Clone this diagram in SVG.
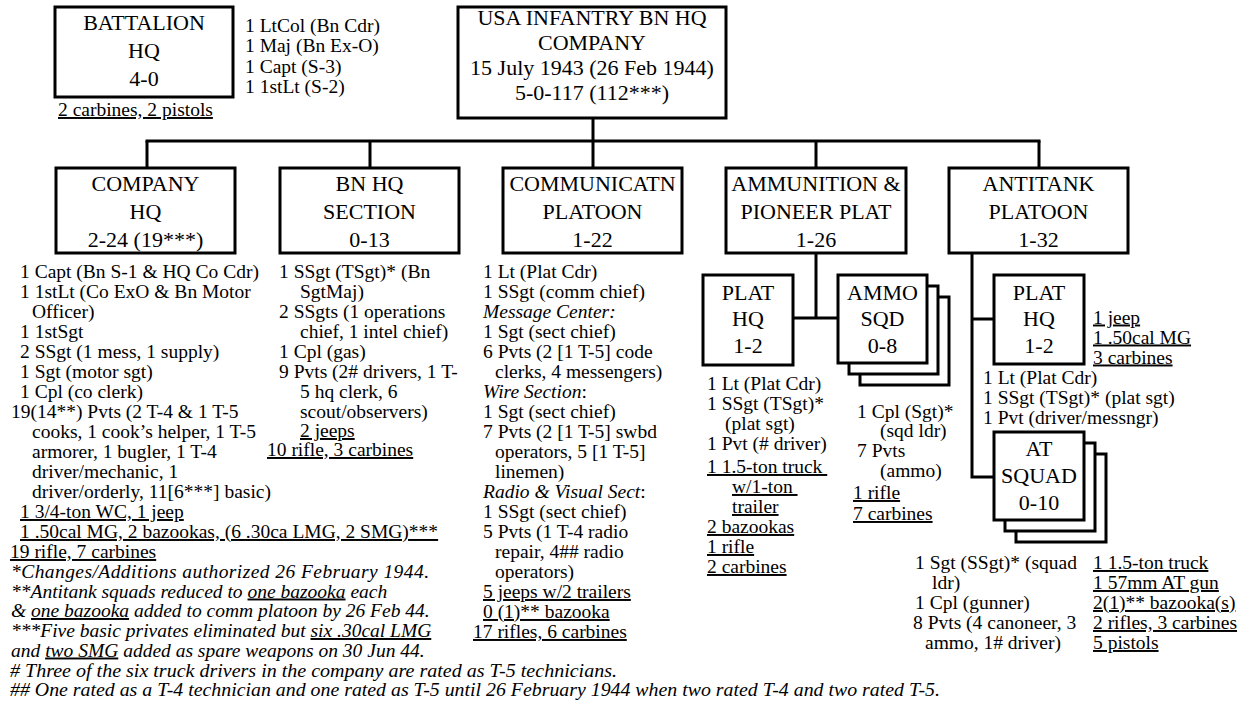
<svg xmlns="http://www.w3.org/2000/svg" width="1247" height="709" viewBox="0 0 1247 709">
  <style>
    text { font-family: "Liberation Serif", "Times New Roman", serif; fill: #000; }
    .t { font-size: 19.5px; }
    .h { font-size: 22px; text-anchor: middle; }
    .u { text-decoration: underline; }
    .i { font-style: italic; }
    .box { fill: #fff; stroke: #000; stroke-width: 3; }
    .ln { fill: none; stroke: #000; stroke-width: 3; }
  </style>
  <rect width="1247" height="709" fill="#fff"/>

  <!-- connectors -->
  <g id="connectors" class="ln">
    <path d="M593,118 V141"/>
    <path d="M145.5,141 H1040.5"/>
    <path d="M147,141 V168 M370,141 V168 M593,141 V168 M816,141 V168 M1039,141 V168"/>
    <path d="M816,253 V318 M793,318 H838"/>
    <path d="M972,253 V477 H994 M972,319 H994"/>
  </g>

  <!-- battalion headquarters -->
  <g id="bn-hq">
    <rect class="box" x="55" y="7" width="178" height="90"/>
    <text class="h" x="144" y="29.5">BATTALION</text>
    <text class="h" x="144" y="57.5">HQ</text>
    <text class="h" x="144" y="85.5">4-0</text>
    <text class="t u" x="58" y="116">2 carbines, 2 pistols</text>
    <text class="t" x="245" y="31.5">1 LtCol (Bn Cdr)</text>
    <text class="t" x="245" y="52">1 Maj (Bn Ex-O)</text>
    <text class="t" x="245" y="72.5">1 Capt (S-3)</text>
    <text class="t" x="245" y="93">1 1stLt (S-2)</text>
  </g>

  <!-- company -->
  <g id="hq-company">
    <rect class="box" x="458" y="7" width="268" height="111"/>
    <text class="h" x="592" y="25">USA INFANTRY BN HQ</text>
    <text class="h" x="592" y="50">COMPANY</text>
    <text class="h" x="592" y="75">15 July 1943 (26 Feb 1944)</text>
    <text class="h" x="592" y="100">5-0-117 (112***)</text>
  </g>

  <!-- company headquarters -->
  <g id="company-hq">
    <rect class="box" x="56" y="168" width="179" height="85"/>
    <text class="h" x="145.5" y="190.5">COMPANY</text>
    <text class="h" x="145.5" y="218.5">HQ</text>
    <text class="h" x="145.5" y="246.5">2-24 (19***)</text>
    <text class="t" x="20" y="278">1 Capt (Bn S-1 &amp; HQ Co Cdr)</text>
    <text class="t" x="20" y="298">1 1stLt (Co ExO &amp; Bn Motor</text>
    <text class="t" x="32" y="318">Officer)</text>
    <text class="t" x="20" y="338">1 1stSgt</text>
    <text class="t" x="20" y="358">2 SSgt (1 mess, 1 supply)</text>
    <text class="t" x="20" y="378">1 Sgt (motor sgt)</text>
    <text class="t" x="20" y="398">1 Cpl (co clerk)</text>
    <text class="t" x="11" y="418">19(14**) Pvts (2 T-4 &amp; 1 T-5</text>
    <text class="t" x="32" y="438">cooks, 1 cook’s helper, 1 T-5</text>
    <text class="t" x="32" y="458">armorer, 1 bugler, 1 T-4</text>
    <text class="t" x="32" y="478">driver/mechanic, 1</text>
    <text class="t" x="32" y="498">driver/orderly, 11[6***] basic)</text>
    <text class="t u" x="20" y="518">1 3/4-ton WC, 1 jeep</text>
    <text class="t u" x="20" y="538">1 .50cal MG, 2 bazookas, (6 .30ca LMG, 2 SMG)***</text>
    <text class="t u" x="10" y="558">19 rifle, 7 carbines</text>
  </g>

  <!-- battalion headquarters section -->
  <g id="bn-hq-section">
    <rect class="box" x="280" y="168" width="179" height="85"/>
    <text class="h" x="369.5" y="190.5">BN HQ</text>
    <text class="h" x="369.5" y="218.5">SECTION</text>
    <text class="h" x="369.5" y="246.5">0-13</text>
    <text class="t" x="279" y="278">1 SSgt (TSgt)* (Bn</text>
    <text class="t" x="300" y="298">SgtMaj)</text>
    <text class="t" x="279" y="318">2 SSgts (1 operations</text>
    <text class="t" x="300" y="338">chief, 1 intel chief)</text>
    <text class="t" x="279" y="358">1 Cpl (gas)</text>
    <text class="t" x="279" y="378">9 Pvts (2# drivers, 1 T-</text>
    <text class="t" x="300" y="398">5 hq clerk, 6</text>
    <text class="t" x="300" y="418">scout/observers)</text>
    <text class="t u" x="300" y="437">2 jeeps</text>
    <text class="t u" x="267" y="456">10 rifle, 3 carbines</text>
  </g>

  <!-- communication platoon -->
  <g id="comm-platoon">
    <rect class="box" x="503" y="168" width="179" height="85"/>
    <text class="h" x="592.5" y="190.5">COMMUNICATN</text>
    <text class="h" x="592.5" y="218.5">PLATOON</text>
    <text class="h" x="592.5" y="246.5">1-22</text>
    <text class="t" x="483" y="278">1 Lt (Plat Cdr)</text>
    <text class="t" x="483" y="298">1 SSgt (comm chief)</text>
    <text class="t i" x="483" y="318">Message Center:</text>
    <text class="t" x="483" y="338">1 Sgt (sect chief)</text>
    <text class="t" x="483" y="358">6 Pvts (2 [1 T-5] code</text>
    <text class="t" x="495" y="378">clerks, 4 messengers)</text>
    <text class="t" x="483" y="398"><tspan class="i">Wire Section</tspan>:</text>
    <text class="t" x="483" y="418">1 Sgt (sect chief)</text>
    <text class="t" x="483" y="438">7 Pvts (2 [1 T-5] swbd</text>
    <text class="t" x="495" y="458">operators, 5 [1 T-5]</text>
    <text class="t" x="495" y="478">linemen)</text>
    <text class="t" x="483" y="498"><tspan class="i">Radio &amp; Visual Sect</tspan>:</text>
    <text class="t" x="483" y="518">1 SSgt (sect chief)</text>
    <text class="t" x="483" y="538">5 Pvts (1 T-4 radio</text>
    <text class="t" x="495" y="558">repair, 4## radio</text>
    <text class="t" x="495" y="578">operators)</text>
    <text class="t u" x="483" y="598">5 jeeps w/2 trailers</text>
    <text class="t u" x="483" y="618">0 (1)** bazooka</text>
    <text class="t u" x="473" y="638">17 rifles, 6 carbines</text>
  </g>

  <!-- ammunition and pioneer platoon -->
  <g id="ammo-pioneer-platoon">
    <rect class="box" x="726" y="168" width="180" height="85"/>
    <text class="h" x="816" y="190.5">AMMUNITION &amp;</text>
    <text class="h" x="816" y="218.5">PIONEER PLAT</text>
    <text class="h" x="816" y="246.5">1-26</text>
  </g>

  <g id="ammo-plat-hq">
    <rect class="box" x="703" y="275" width="90" height="90"/>
    <text class="h" x="748" y="299.5">PLAT</text>
    <text class="h" x="748" y="325.5">HQ</text>
    <text class="h" x="748" y="352.5">1-2</text>
    <text class="t" x="707" y="390">1 Lt (Plat Cdr)</text>
    <text class="t" x="707" y="410">1 SSgt (TSgt)*</text>
    <text class="t" x="725" y="430">(plat sgt)</text>
    <text class="t" x="707" y="450">1 Pvt (# driver)</text>
    <text class="t u" x="707" y="473" style="white-space:pre">1 1.5-ton truck </text>
    <text class="t u" x="732" y="493" style="white-space:pre">w/1-ton </text>
    <text class="t u" x="732" y="513">trailer</text>
    <text class="t u" x="707" y="533">2 bazookas</text>
    <text class="t u" x="707" y="553">1 rifle</text>
    <text class="t u" x="707" y="573">2 carbines</text>
  </g>

  <g id="ammo-squad">
    <rect class="box" x="860" y="297" width="89" height="88"/>
    <rect class="box" x="849" y="286" width="89" height="88"/>
    <rect class="box" x="838" y="275" width="89" height="88"/>
    <text class="h" x="882.5" y="299.5">AMMO</text>
    <text class="h" x="882.5" y="325.5">SQD</text>
    <text class="h" x="882.5" y="352.5">0-8</text>
    <text class="t" x="857" y="418">1 Cpl (Sgt)*</text>
    <text class="t" x="880" y="437">(sqd ldr)</text>
    <text class="t" x="857" y="457">7 Pvts</text>
    <text class="t" x="880" y="477">(ammo)</text>
    <text class="t u" x="853" y="499">1 rifle</text>
    <text class="t u" x="853" y="520">7 carbines</text>
  </g>

  <!-- antitank platoon -->
  <g id="antitank-platoon">
    <rect class="box" x="949" y="168" width="179" height="85"/>
    <text class="h" x="1038.5" y="190.5">ANTITANK</text>
    <text class="h" x="1038.5" y="218.5">PLATOON</text>
    <text class="h" x="1038.5" y="246.5">1-32</text>
  </g>

  <g id="at-plat-hq">
    <rect class="box" x="994" y="275" width="90" height="89"/>
    <text class="h" x="1039" y="299.5">PLAT</text>
    <text class="h" x="1039" y="325.5">HQ</text>
    <text class="h" x="1039" y="352.5">1-2</text>
    <text class="t u" x="1093" y="323.5">1 jeep</text>
    <text class="t u" x="1093" y="343.5">1 .50cal MG</text>
    <text class="t u" x="1093" y="363.5">3 carbines</text>
    <text class="t" x="983" y="384">1 Lt (Plat Cdr)</text>
    <text class="t" x="983" y="404">1 SSgt (TSgt)* (plat sgt)</text>
    <text class="t" x="983" y="424">1 Pvt (driver/messngr)</text>
  </g>

  <g id="at-squad">
    <rect class="box" x="1016" y="454" width="90" height="88"/>
    <rect class="box" x="1005" y="443" width="90" height="88"/>
    <rect class="box" x="994" y="432" width="90" height="88"/>
    <text class="h" x="1039" y="455.5">AT</text>
    <text class="h" x="1039" y="482.5">SQUAD</text>
    <text class="h" x="1039" y="509.5">0-10</text>
    <text class="t" x="915" y="569">1 Sgt (SSgt)* (squad</text>
    <text class="t" x="932" y="589">ldr)</text>
    <text class="t" x="915" y="609">1 Cpl (gunner)</text>
    <text class="t" x="913" y="629">8 Pvts (4 canoneer, 3</text>
    <text class="t" x="925" y="649">ammo, 1# driver)</text>
    <text class="t u" x="1093" y="569">1 1.5-ton truck</text>
    <text class="t u" x="1093" y="589">1 57mm AT gun</text>
    <text class="t u" x="1093" y="609">2(1)** bazooka(s)</text>
    <text class="t u" x="1093" y="629">2 rifles, 3 carbines</text>
    <text class="t u" x="1093" y="649">5 pistols</text>
  </g>

  <!-- footnotes -->
  <g id="notes">
    <text class="t i" x="11" y="578" textLength="418" lengthAdjust="spacing">*Changes/Additions authorized 26 February 1944.</text>
    <text class="t i" x="11" y="597.5">**Antitank squads reduced to <tspan class="u">one bazooka</tspan> each</text>
    <text class="t i" x="11" y="617">&amp; <tspan class="u">one bazooka</tspan> added to comm platoon by 26 Feb 44.</text>
    <text class="t i" x="11" y="637">***Five basic privates eliminated but <tspan class="u">six .30cal LMG</tspan></text>
    <text class="t i" x="11" y="656.5">and <tspan class="u">two SMG</tspan> added as spare weapons on 30 Jun 44.</text>
    <text class="t i" x="10" y="676.5" textLength="607" lengthAdjust="spacingAndGlyphs"># Three of the six truck drivers in the company are rated as T-5 technicians.</text>
    <text class="t i" x="10" y="696" textLength="930" lengthAdjust="spacingAndGlyphs">## One rated as a T-4 technician and one rated as T-5 until 26 February 1944 when two rated T-4 and two rated T-5.</text>
  </g>
</svg>
